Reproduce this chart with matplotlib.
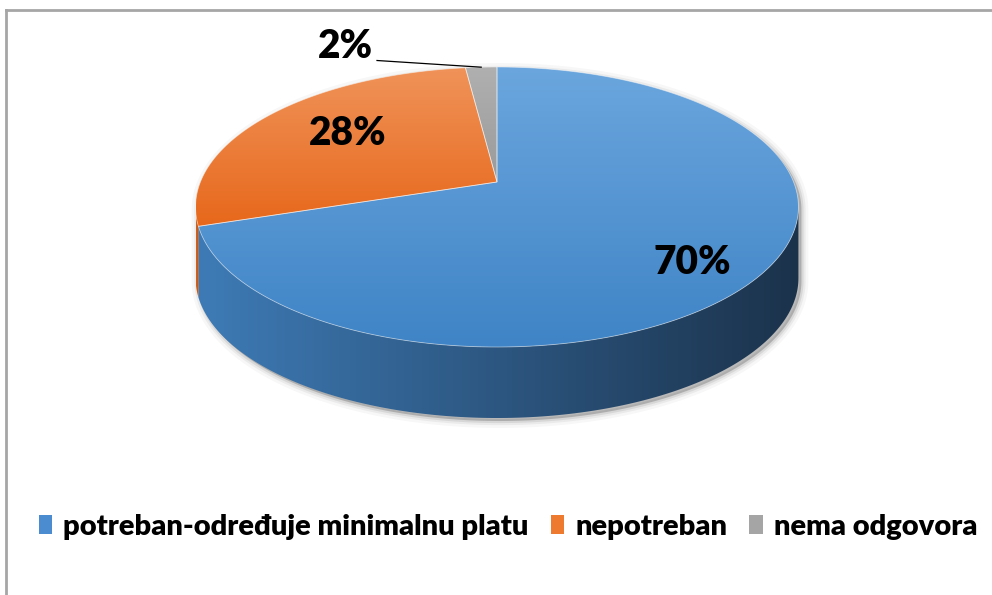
import numpy as np
import matplotlib
matplotlib.use("Agg")
import matplotlib.pyplot as plt
from matplotlib.patches import Polygon, Patch
from matplotlib.colors import LinearSegmentedColormap

# data
categories = ['potreban-određuje minimalnu platu', 'nepotreban', 'nema odgovora']
shares = [70, 28, 2]

# colours: top face (light, dark), side wall (left, right), legend
top_cols = [('#6ba6de', '#3f84c6'), ('#f0935a', '#e7681b'), ('#b0b0b0', '#9a9a9a')]
side_cols = [('#3e7bb6', '#1b324b'), ('#d2631d', '#b9561a'), ('#8a8a8a', '#6e6e6e')]
legend_cols = ['#4b8bd0', '#ee7a30', '#a5a5a5']

W, H = 992, 595
fig = plt.figure(figsize=(W / 100, H / 100), dpi=100)
ax = fig.add_axes([0, 0, 1, 1])
ax.set_xlim(0, W)
ax.set_ylim(H, 0)
ax.axis('off')

plt.rcParams['font.family'] = ['Lato', 'DejaVu Sans']

# perspective disc: theta clockwise from 12 o'clock
cx, A = 497, 296.6
c0, c1, k = 182, -103.04, 0.1786
depth = 71


def proj(theta, r=1.0, drop=0.0):
    u = r * np.sin(theta)
    v = r * np.cos(theta)
    w = 1 + k * v
    return cx + A * u / w, (c0 + c1 * v) / w + drop


def grad_fill(poly_xy, c_a, c_b, horizontal, z):
    cmap = LinearSegmentedColormap.from_list('g', [c_a, c_b])
    patch = Polygon(poly_xy, closed=True, facecolor='none', edgecolor='none')
    ax.add_patch(patch)
    x0, y0 = poly_xy.min(axis=0)
    x1, y1 = poly_xy.max(axis=0)
    g = np.linspace(0, 1, 256)
    img = g[None, :] if horizontal else g[:, None]
    im = ax.imshow(img, cmap=cmap, extent=(x0, x1, y1, y0), origin='upper',
                   aspect='auto', zorder=z, interpolation='bilinear')
    im.set_clip_path(patch)


fracs = np.array(shares, dtype=float) / sum(shares)
bounds = np.concatenate([[0], np.cumsum(fracs)]) * 2 * np.pi
th_vis = np.arccos(-k)  # where the outline turns from back to front

# soft shadow under the disc
t_front = np.linspace(th_vis, 2 * np.pi - th_vis, 200)
t_back = np.linspace(2 * np.pi - th_vis, 2 * np.pi + th_vis, 200)
sx, sy = proj(t_front, drop=depth)
bx, by = proj(t_back)
sil = np.column_stack([np.concatenate([sx, bx]), np.concatenate([sy, by])])
for lw, a in [(10, 0.03), (6, 0.05), (3, 0.08)]:
    ax.add_patch(Polygon(sil + [3, 3], closed=True, facecolor='none',
                         edgecolor='black', lw=lw, alpha=a, zorder=1))
ax.add_patch(Polygon(sil + [3, 3], closed=True, facecolor='#707070', edgecolor='none',
                     alpha=0.4, zorder=1))

# side walls (light on the left, dark on the right)
for i in range(len(shares)):
    a0 = max(bounds[i], th_vis)
    a1 = min(bounds[i + 1], 2 * np.pi - th_vis)
    if a1 <= a0:
        continue
    t = np.linspace(a0, a1, 150)
    tx, ty = proj(t)
    lx, ly = proj(t[::-1], drop=depth)
    poly = np.column_stack([np.concatenate([tx, lx]), np.concatenate([ty, ly])])
    grad_fill(poly, side_cols[i][0], side_cols[i][1], True, 2)

# top faces
for i in range(len(shares)):
    t = np.linspace(bounds[i], bounds[i + 1], 200)
    tx, ty = proj(t)
    poly = np.column_stack([np.concatenate([[cx], tx]), np.concatenate([[c0], ty])])
    grad_fill(poly, top_cols[i][0], top_cols[i][1], False, 3)
    ax.add_patch(Polygon(poly, closed=True, facecolor='none', edgecolor='white',
                         lw=0.6, alpha=0.5, zorder=4))

# percentage labels
lab_r = [0.75, 0.62, None]
lab_dy = [16, -6, 0]
for i, s in enumerate(shares):
    mid = (bounds[i] + bounds[i + 1]) / 2
    txt = f'{s}%'
    if lab_r[i] is not None:
        lx, ly = proj(mid, lab_r[i])
        ax.text(lx - (3 if i == 1 else 0), ly + lab_dy[i], txt, ha='center', va='center',
                fontsize=28, fontweight='heavy', color='black', zorder=6)
    else:
        ex, ey = proj(mid)
        ax.plot([ex, 377], [ey, 60.5], color='black', lw=0.9, zorder=6)
        ax.text(373, 47, txt, ha='right', va='center', fontsize=28,
                fontweight='heavy', color='black', zorder=6)

# legend
handles = [Patch(facecolor=c, edgecolor='none') for c in legend_cols]
ax.legend(handles, categories, loc='center left', bbox_to_anchor=(27 / W, 1 - 527 / H),
          ncol=3, frameon=False, handlelength=0.45, handleheight=0.65,
          handletextpad=0.4, columnspacing=0.75, borderaxespad=0,
          prop={'family': 'Lato', 'weight': 'heavy', 'size': 21})

# chart frame
ax.plot([5.5, 5.5], [H, 9.5], color='#a6a6a6', lw=2, zorder=7, clip_on=False)
ax.plot([5.5, W], [9.5, 9.5], color='#a6a6a6', lw=2, zorder=7, clip_on=False)

ax.set_xlim(0, W)
ax.set_ylim(H, 0)
fig.savefig('out.png', dpi=100)
